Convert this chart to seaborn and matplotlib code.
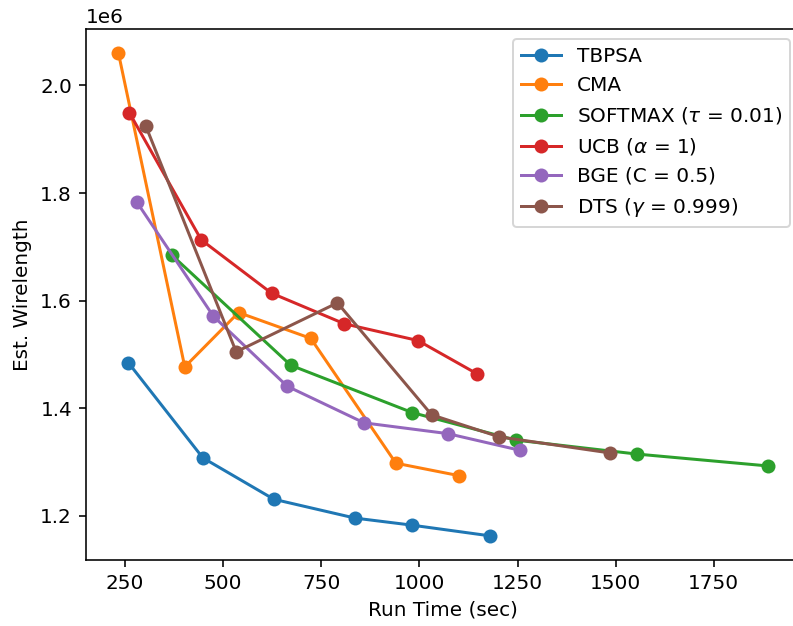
import matplotlib
matplotlib.use("Agg")
import matplotlib.pyplot as plt
import seaborn as sns
import pandas as pd

labels = ["TBPSA", "CMA", r"SOFTMAX ($\tau$ = 0.01)", r"UCB ($\alpha$ = 1)",
          "BGE (C = 0.5)", r"DTS ($\gamma$ = 0.999)"]

tbpsa_x = [258, 448, 629, 836, 980, 1180]
tbpsa_y = [1.485e6, 1.308e6, 1.231e6, 1.196e6, 1.183e6, 1.163e6]
cma_x = [233, 402, 539, 723, 940, 1100]
cma_y = [2.060e6, 1.477e6, 1.578e6, 1.530e6, 1.298e6, 1.275e6]
softmax_x = [370, 672, 982, 1245, 1554, 1887]
softmax_y = [1.684e6, 1.480e6, 1.392e6, 1.341e6, 1.315e6, 1.293e6]
ucb_x = [261, 444, 623, 809, 996, 1147]
ucb_y = [1.949e6, 1.713e6, 1.614e6, 1.557e6, 1.526e6, 1.464e6]
bge_x = [280, 475, 663, 859, 1072, 1256]
bge_y = [1.783e6, 1.571e6, 1.441e6, 1.373e6, 1.353e6, 1.322e6]
dts_x = [303, 533, 791, 1031, 1203, 1486]
dts_y = [1.924e6, 1.505e6, 1.596e6, 1.388e6, 1.347e6, 1.317e6]

series_x = [tbpsa_x, cma_x, softmax_x, ucb_x, bge_x, dts_x]
series_y = [tbpsa_y, cma_y, softmax_y, ucb_y, bge_y, dts_y]

colors = sns.color_palette("tab10", 6)

dpi = 144
fig = plt.figure(figsize=(793 / dpi, 626 / dpi), dpi=dpi)
ax = fig.add_axes([86 / 793, 1 - 560 / 626, 714 / 793, 531 / 626])

for lab, xs, ys, c in zip(labels, series_x, series_y, colors):
    df = pd.DataFrame({"x": xs, "y": ys})
    sns.lineplot(data=df, x="x", y="y", ax=ax, color=c, marker="o",
                 markersize=7, markeredgewidth=0, linewidth=1.5,
                 sort=False, label=lab)

ax.set_xlabel("Run Time (sec)")
ax.set_ylabel("Est. Wirelength")
ax.set_xticks([250, 500, 750, 1000, 1250, 1500, 1750])
ax.legend(loc="upper right")

fig.savefig("out.png", dpi=dpi)
